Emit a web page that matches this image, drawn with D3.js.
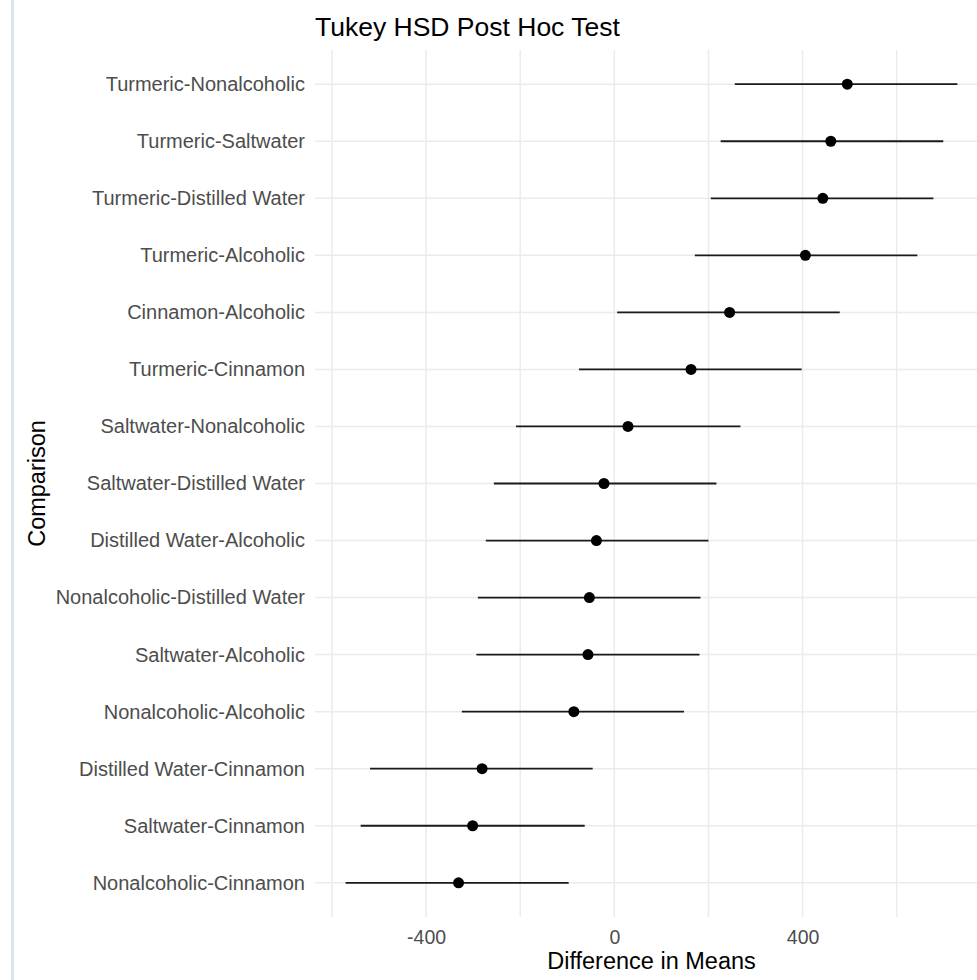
<!DOCTYPE html>
<html lang="en">
<head>
<meta charset="UTF-8">
<title>Tukey HSD Post Hoc Test</title>
<script src="https://d3js.org/d3.v7.min.js"></script>
<style>
    body { margin: 0; background: #fff; }
    svg { display: block; font-family: "Liberation Sans", Arial, sans-serif; }
</style>
</head>
<body>
<div id="chart"></div>
<script>
    // comparisons, top to bottom
    const comparisons = [
        'Turmeric-Nonalcoholic',
        'Turmeric-Saltwater',
        'Turmeric-Distilled Water',
        'Turmeric-Alcoholic',
        'Cinnamon-Alcoholic',
        'Turmeric-Cinnamon',
        'Saltwater-Nonalcoholic',
        'Saltwater-Distilled Water',
        'Distilled Water-Alcoholic',
        'Nonalcoholic-Distilled Water',
        'Saltwater-Alcoholic',
        'Nonalcoholic-Alcoholic',
        'Distilled Water-Cinnamon',
        'Saltwater-Cinnamon',
        'Nonalcoholic-Cinnamon'
    ];
    const diffs = [495, 460, 443, 406, 245, 163, 29, -22, -38, -53, -56, -86, -281, -301, -331];
    const lwr = [256, 226, 205, 171, 6, -75, -209, -256, -273, -290, -293, -324, -519, -539, -571];
    const upr = [729, 699, 678, 644, 479, 398, 268, 217, 200, 183, 181, 148, -46, -63, -97];
    const xTicks = [-400, 0, 400];
    const xMinor = [-600, -200, 200, 600];

    const data = comparisons.map((c, i) => ({ name: c, diff: diffs[i], lwr: lwr[i], upr: upr[i] }));

    const width = 977;
    const height = 980;
    const panel = { left: 315, right: 988, top: 50, bottom: 917 };

    const svg = d3.select('#chart')
        .append('svg')
        .attr('width', width)
        .attr('height', height);

    // screenshot border strip on the left
    svg.append('rect')
        .attr('x', 11).attr('y', 0)
        .attr('width', 3).attr('height', height)
        .attr('fill', '#dbe3f1');

    const x = d3.scaleLinear()
        .domain([-636, 794])
        .range([panel.left, panel.right]);

    const y = d3.scalePoint()
        .domain(comparisons)
        .range([panel.top, panel.bottom])
        .padding(0.6);

    const grid = svg.append('g').attr('class', 'grid');

    // vertical grid lines (minor + major look alike here)
    grid.selectAll('line.v')
        .data(xMinor.concat(xTicks))
        .enter().append('line')
        .attr('class', 'v')
        .attr('x1', d => x(d)).attr('x2', d => x(d))
        .attr('y1', panel.top).attr('y2', panel.bottom)
        .attr('stroke', '#ebebeb')
        .attr('stroke-width', 1.5);

    grid.selectAll('line.h')
        .data(comparisons)
        .enter().append('line')
        .attr('class', 'h')
        .attr('x1', panel.left).attr('x2', panel.right)
        .attr('y1', d => y(d)).attr('y2', d => y(d))
        .attr('stroke', '#ebebeb')
        .attr('stroke-width', 1.5);

    // error bars
    svg.append('g')
        .selectAll('line')
        .data(data)
        .enter().append('line')
        .attr('x1', d => x(d.lwr))
        .attr('x2', d => x(d.upr))
        .attr('y1', d => y(d.name))
        .attr('y2', d => y(d.name))
        .attr('stroke', '#1a1a1a')
        .attr('stroke-width', 1.8);

    svg.append('g')
        .selectAll('circle')
        .data(data)
        .enter().append('circle')
        .attr('cx', d => x(d.diff))
        .attr('cy', d => y(d.name))
        .attr('r', 5.5)
        .attr('fill', '#000');

    // axes
    const yAxis = svg.append('g')
        .attr('transform', `translate(${panel.left},0)`)
        .call(d3.axisLeft(y).tickSize(0).tickPadding(10));
    yAxis.select('.domain').remove();
    yAxis.selectAll('text')
        .attr('font-size', 20)
        .attr('font-family', '"Liberation Sans", Arial, sans-serif')
        .attr('fill', '#4d4d4d');

    const xAxis = svg.append('g')
        .attr('transform', `translate(0,${panel.bottom})`)
        .call(d3.axisBottom(x).tickValues(xTicks).tickSize(0).tickFormat(d => String(d)));
    xAxis.select('.domain').remove();
    xAxis.selectAll('text')
        .attr('y', 27)
        .attr('dy', null)
        .attr('font-size', 19.5)
        .attr('font-family', '"Liberation Sans", Arial, sans-serif')
        .attr('fill', '#4d4d4d');

    // titles
    svg.append('text')
        .attr('x', panel.left)
        .attr('y', 36)
        .attr('font-size', 26.5)
        .attr('fill', '#000')
        .text('Tukey HSD Post Hoc Test');

    svg.append('text')
        .attr('x', (panel.left + panel.right) / 2)
        .attr('y', 969)
        .attr('text-anchor', 'middle')
        .attr('font-size', 23.5)
        .attr('fill', '#000')
        .text('Difference in Means');

    svg.append('text')
        .attr('transform', `translate(45,${(panel.top + panel.bottom) / 2}) rotate(-90)`)
        .attr('text-anchor', 'middle')
        .attr('font-size', 23.5)
        .attr('fill', '#000')
        .text('Comparison');
</script>
</body>
</html>
